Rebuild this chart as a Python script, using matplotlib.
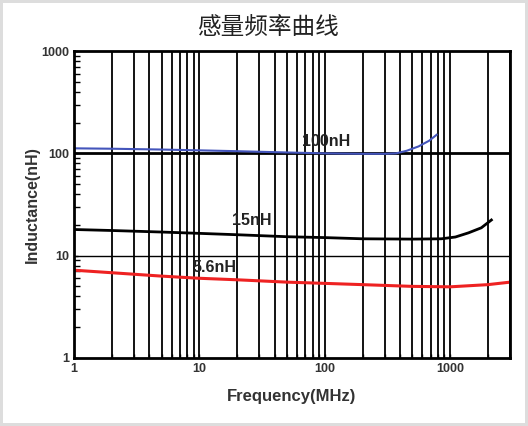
import matplotlib.pyplot as plt
from matplotlib.ticker import LogLocator, NullFormatter

plt.rcParams['font.family'] = ['Liberation Sans', 'Noto Sans CJK SC', 'DejaVu Sans']

# 100nH
f_100 = [1, 2, 5, 10, 20, 50, 100, 200, 300, 370, 450, 560, 680, 780]
l_100 = [112, 111, 109, 107, 105, 102, 100, 99, 99, 100, 106, 117, 133, 152]

# 15nH
f_15 = [1, 2, 5, 10, 20, 50, 100, 200, 500, 850, 1100, 1400, 1770, 2130]
l_15 = [18, 17.6, 17, 16.5, 16, 15.3, 15, 14.6, 14.5, 14.6, 15.2, 16.7, 18.7, 22.3]

# 5.6nH
f_56 = [1, 2, 5, 10, 20, 50, 100, 200, 500, 1000, 2000, 3000]
l_56 = [7.2, 6.8, 6.3, 6.0, 5.8, 5.5, 5.35, 5.2, 5.0, 4.95, 5.2, 5.5]

fig = plt.figure(figsize=(5.28, 4.26), dpi=100)
fig.patch.set_edgecolor('#dddddd')
fig.patch.set_linewidth(3)
ax = fig.add_axes([0.140, 0.160, 0.826, 0.720])

ax.set_xscale('log')
ax.set_yscale('log')
ax.set_xlim(1, 3000)
ax.set_ylim(1, 1000)

# vertical grid lines at every 1..9 x decade
ax.xaxis.set_major_locator(LogLocator(base=10))
ax.xaxis.set_minor_locator(LogLocator(base=10, subs=range(2, 10)))
ax.xaxis.set_minor_formatter(NullFormatter())
ax.grid(True, which='both', axis='x', color='black', linewidth=1.3)

ax.yaxis.set_major_locator(LogLocator(base=10))
ax.yaxis.set_minor_locator(LogLocator(base=10, subs=range(2, 10)))
ax.yaxis.set_minor_formatter(NullFormatter())
ax.axhline(100, color='black', linewidth=2)
ax.axhline(10, color='black', linewidth=1)

ax.plot(f_100, l_100, color='#4455bb', linewidth=1.5)
ax.plot(f_15, l_15, color='black', linewidth=2)
ax.plot(f_56, l_56, color='#ee2222', linewidth=2.2)

ax.text(102, 131, '100nH', fontsize=11.5, fontweight='bold', color='#222222', ha='center', va='center')
ax.text(26.4, 21.9, '15nH', fontsize=11.5, fontweight='bold', color='#222222', ha='center', va='center')
ax.text(13.2, 7.65, '5.6nH', fontsize=11.5, fontweight='bold', color='#222222', ha='center', va='center')

ax.set_xticks([1, 10, 100, 1000])
ax.set_xticklabels(['1', '10', '100', '1000'])
ax.set_yticks([1, 10, 100, 1000])
ax.set_yticklabels(['1', '10', '100', '1000'])
ax.tick_params(axis='both', which='major', labelsize=9, direction='in', length=3, width=1)
ax.tick_params(axis='x', which='minor', direction='in', length=3, width=1)
ax.tick_params(axis='y', which='minor', direction='in', length=4, width=1)
for lab in ax.get_xticklabels() + ax.get_yticklabels():
    lab.set_fontweight('bold')
    lab.set_color('#333333')

for side in ax.spines.values():
    side.set_linewidth(2)

ax.set_xlabel('Frequency(MHz)', fontsize=12, fontweight='bold', color='#333333', labelpad=10)
ax.set_ylabel('Inductance(nH)', fontsize=11.5, fontweight='bold', color='#333333', labelpad=1)
fig.text(0.51, 0.935, '感量频率曲线', fontsize=17, ha='center', va='center',
         family=['Noto Sans CJK SC', 'DejaVu Sans'], color='#222222')

plt.savefig('out.png', dpi=100)
